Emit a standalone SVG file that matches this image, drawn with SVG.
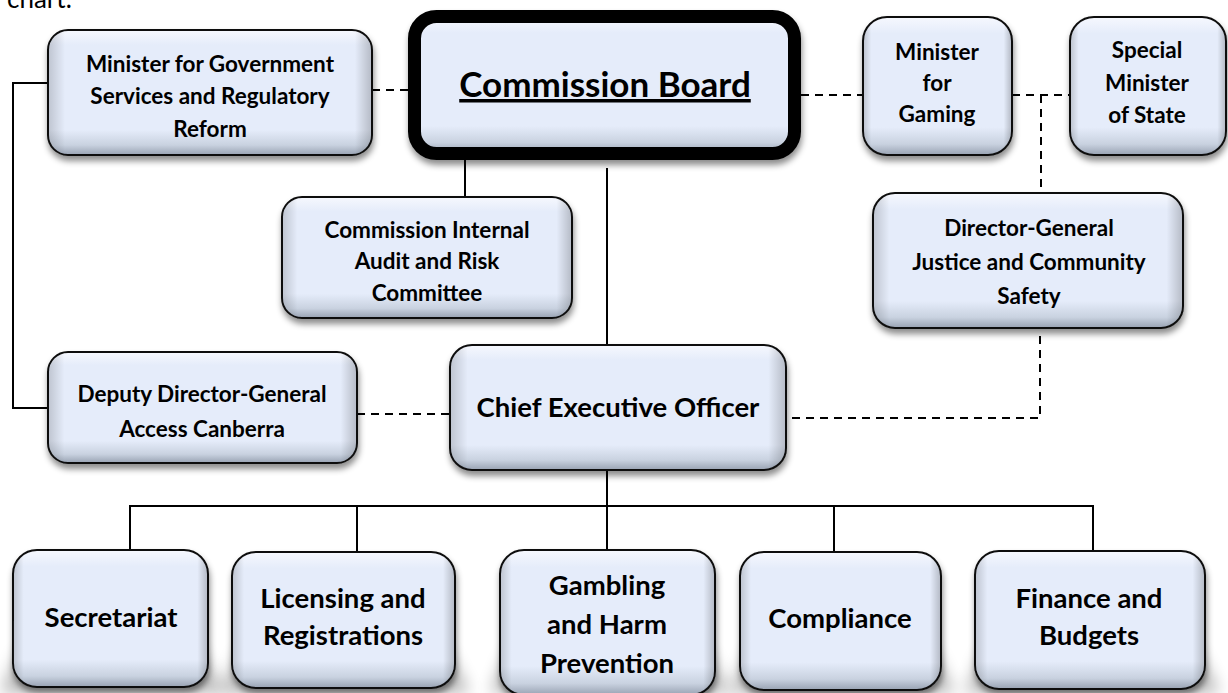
<svg xmlns="http://www.w3.org/2000/svg" width="1228" height="693" viewBox="0 0 1228 693">
<defs>
<linearGradient id="fillV" x1="0" y1="0" x2="0" y2="1">
<stop offset="0" stop-color="#f6f8fe"/>
<stop offset="0.12" stop-color="#e5ecfa"/>
<stop offset="0.80" stop-color="#e5ecfa"/>
<stop offset="0.92" stop-color="#c9d2e0"/>
<stop offset="1" stop-color="#98a2b2"/>
</linearGradient>
<linearGradient id="sideH" x1="0" y1="0" x2="1" y2="0">
<stop offset="0" stop-color="#000" stop-opacity="0.16"/>
<stop offset="0.05" stop-color="#000" stop-opacity="0"/>
<stop offset="0.95" stop-color="#000" stop-opacity="0"/>
<stop offset="1" stop-color="#000" stop-opacity="0.2"/>
</linearGradient>
<filter id="shadow" x="-10%" y="-10%" width="125%" height="135%">
<feDropShadow dx="1" dy="5" stdDeviation="3" flood-color="#000" flood-opacity="0.45"/>
</filter>
<filter id="bigshadow" x="-30%" y="-30%" width="160%" height="180%">
<feGaussianBlur stdDeviation="8"/>
</filter>
</defs>
<style>
.box{fill:url(#fillV);stroke:#111;stroke-width:2;filter:url(#shadow)}
.side{fill:url(#sideH);stroke:none}
.board{fill:url(#fillV);stroke:#000;stroke-width:13;filter:url(#shadow)}
.t{font-family:Lato,"Liberation Sans",sans-serif;font-weight:bold;fill:#000;text-anchor:middle}
.a{font-size:22.5px}
.b{font-size:27.5px}
.c{font-size:35px}
.ln{stroke:#000;stroke-width:2;fill:none}
.dash{stroke:#000;stroke-width:2;fill:none;stroke-dasharray:8 6}
.ps{fill:#000;opacity:0.28;filter:url(#bigshadow)}
</style>
<rect width="1228" height="693" fill="#fff"/>
<text x="7" y="8" style="font-family:Lato,'Liberation Sans',sans-serif;font-size:26px;fill:#000">chart.</text>

<g id="perspective-shadows">
<path class="ps" d="M20 650 L200 650 L225 693 L0 693 Z"/>
<path class="ps" d="M240 650 L448 650 L470 693 L220 693 Z"/>
<path class="ps" d="M508 650 L708 650 L730 693 L490 693 Z"/>
<path class="ps" d="M748 650 L934 650 L955 693 L730 693 Z"/>
<path class="ps" d="M983 650 L1198 650 L1220 693 L965 693 Z"/>
</g>

<g id="connectors">
<polyline class="ln" points="48,83 13,83 13,408 48,408"/>
<line class="dash" x1="372" y1="90" x2="408" y2="90"/>
<line class="dash" x1="801" y1="95" x2="863" y2="95"/>
<line class="dash" x1="1012" y1="95" x2="1070" y2="95"/>
<line class="dash" x1="1041" y1="95" x2="1041" y2="193"/>
<line class="ln" x1="465" y1="160" x2="465" y2="197"/>
<line class="ln" x1="607" y1="168" x2="607" y2="345"/>
<line class="dash" x1="357" y1="414" x2="450" y2="414"/>
<polyline class="dash" points="1040,336 1040,418 786,418"/>
<line class="ln" x1="607" y1="470" x2="607" y2="550"/>
<polyline class="ln" points="130,550 130,506 1093,506 1093,551"/>
<line class="ln" x1="357" y1="506" x2="357" y2="552"/>
<line class="ln" x1="834" y1="506" x2="834" y2="552"/>
</g>

<g id="minister-gov">
<rect class="box" x="48" y="30" width="324" height="125" rx="20"/>
<rect class="side" x="49" y="31" width="322" height="123" rx="19"/>
<text class="t a" x="210" y="72">Minister for Government</text>
<text class="t a" x="210" y="104">Services and Regulatory</text>
<text class="t a" x="210" y="137">Reform</text>
</g>

<g id="commission-board">
<rect class="board" x="414.5" y="16.5" width="380" height="137" rx="22"/>
<text class="t c" x="605" y="97" text-decoration="underline">Commission Board</text>
</g>

<g id="minister-gaming">
<rect class="box" x="863" y="17" width="149" height="138" rx="24"/>
<rect class="side" x="864" y="18" width="147" height="136" rx="23"/>
<text class="t a" x="937" y="60">Minister</text>
<text class="t a" x="937" y="91">for</text>
<text class="t a" x="937" y="122">Gaming</text>
</g>

<g id="special-minister">
<rect class="box" x="1070" y="17" width="156" height="138" rx="24"/>
<rect class="side" x="1071" y="18" width="154" height="136" rx="23"/>
<text class="t a" x="1147" y="58">Special</text>
<text class="t a" x="1147" y="91">Minister</text>
<text class="t a" x="1147" y="123">of State</text>
</g>

<g id="audit-committee">
<rect class="box" x="282" y="197" width="290" height="121" rx="20"/>
<rect class="side" x="283" y="198" width="288" height="119" rx="19"/>
<text class="t a" x="427" y="238">Commission Internal</text>
<text class="t a" x="427" y="269">Audit and Risk</text>
<text class="t a" x="427" y="301">Committee</text>
</g>

<g id="director-general">
<rect class="box" x="873" y="193" width="310" height="135" rx="22"/>
<rect class="side" x="874" y="194" width="308" height="133" rx="21"/>
<text class="t a" x="1029" y="236">Director-General</text>
<text class="t a" x="1029" y="270">Justice and Community</text>
<text class="t a" x="1029" y="304">Safety</text>
</g>

<g id="deputy-dg">
<rect class="box" x="48" y="352" width="309" height="111" rx="20"/>
<rect class="side" x="49" y="353" width="307" height="109" rx="19"/>
<text class="t a" x="202" y="402">Deputy Director-General</text>
<text class="t a" x="202" y="437">Access Canberra</text>
</g>

<g id="ceo">
<rect class="box" x="450" y="345" width="336" height="125" rx="22"/>
<rect class="side" x="451" y="346" width="334" height="123" rx="21"/>
<text class="t b" x="618" y="417">Chief Executive Officer</text>
</g>

<g id="secretariat">
<rect class="box" x="13" y="550" width="195" height="137" rx="24"/>
<rect class="side" x="14" y="551" width="193" height="135" rx="23"/>
<text class="t b" x="111" y="627">Secretariat</text>
</g>

<g id="licensing">
<rect class="box" x="232" y="552" width="223" height="136" rx="24"/>
<rect class="side" x="233" y="553" width="221" height="134" rx="23"/>
<text class="t b" x="343" y="608">Licensing and</text>
<text class="t b" x="343" y="645">Registrations</text>
</g>

<g id="gambling">
<rect class="box" x="500" y="550" width="215" height="145" rx="24"/>
<rect class="side" x="501" y="551" width="213" height="143" rx="23"/>
<text class="t b" x="607" y="595">Gambling</text>
<text class="t b" x="607" y="634">and Harm</text>
<text class="t b" x="607" y="673">Prevention</text>
</g>

<g id="compliance">
<rect class="box" x="740" y="552" width="201" height="138" rx="24"/>
<rect class="side" x="741" y="553" width="199" height="136" rx="23"/>
<text class="t b" x="840" y="628">Compliance</text>
</g>

<g id="finance">
<rect class="box" x="975" y="551" width="230" height="138" rx="24"/>
<rect class="side" x="976" y="552" width="228" height="136" rx="23"/>
<text class="t b" x="1089" y="608">Finance and</text>
<text class="t b" x="1089" y="645">Budgets</text>
</g>
</svg>
